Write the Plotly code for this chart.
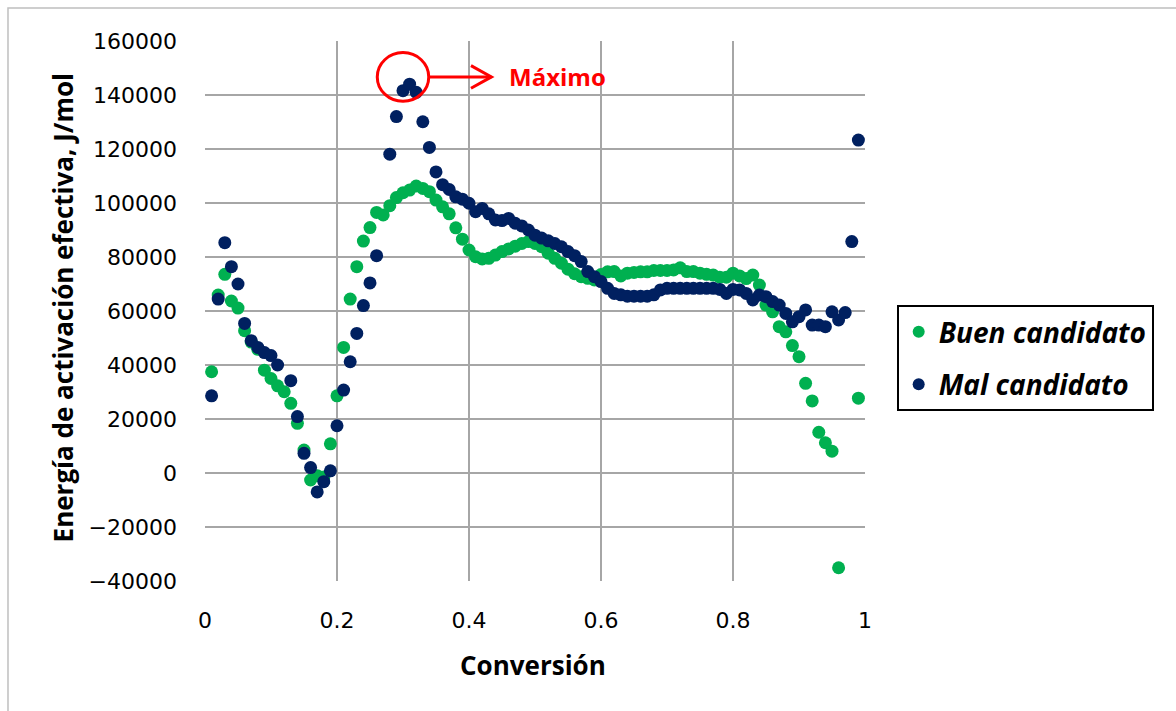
import plotly.graph_objects as go

# Conversion grid 0.01 ... 0.99
conversion = [round(0.01 * i, 2) for i in range(1, 100)]

# Effective activation energy (J/mol), good candidate
buen_candidato = [
    37500, 65900, 73600, 63700, 61100, 52700, 48500, 45800, 38100, 35000,
    32300, 30100, 25800, 18400, 8500, -2600, -1000, -1500, 10800, 28600,
    46500, 64400, 76400, 85900, 90900, 96500, 95600, 99000, 102000, 103800,
    104800, 106300, 105400, 104200, 101100, 98600, 96000, 90800, 86600, 82600,
    80100, 79300, 79500, 80700, 82000, 83000, 84000, 85000, 85700, 85000,
    83800, 81400, 79500, 77700, 75500, 73800, 72700, 72100, 71500, 73500,
    74500, 74600, 73000, 74000, 74300, 74500, 74500, 75000, 75000, 75000,
    75200, 76000, 74600, 74600, 74000, 73600, 73300, 72500, 72500, 74000,
    73000, 72000, 73300, 69600, 62200, 59700, 54200, 52300, 47200, 43100,
    33200, 26700, 15100, 11200, 8100, -35100, None, None, 27700,
]

# Effective activation energy (J/mol), bad candidate
mal_candidato = [
    28600, 64400, 85300, 76400, 70000, 55400, 49000, 46500, 44600, 43500,
    40000, None, 34200, 20900, 7300, 2000, -7000, -3200, 800, 17500,
    30700, 41200, 51700, 62000, 70400, 80500, None, 118100, 132000, 141600,
    144000, 141000, 130100, 120600, 111500, 106800, 105000, 102300, 101400, 99900,
    96800, 98000, 96000, 93700, 93500, 94300, 92500, 91500, 90000, 88100,
    87000, 86000, 85000, 83800, 82000, 80500, 78300, 74600, 72700, 70900,
    68400, 66500, 66000, 65500, 65500, 65500, 65500, 66000, 67800, 68400,
    68400, 68400, 68400, 68400, 68400, 68400, 68400, 68000, 66500, 68000,
    67800, 66500, 64100, 65900, 65300, 63500, 62200, 59100, 56000, 57900,
    60400, 54800, 54800, 54200, 59700, 56700, 59400, 85700, 123300,
]

# Peak marker of the bad candidate
max_x = 0.30
max_y = 146700

x_ticks = [0, 0.2, 0.4, 0.6, 0.8, 1]
x_tick_text = ["0", "0.2", "0.4", "0.6", "0.8", "1"]
y_ticks = list(range(-40000, 160001, 20000))

GREEN = "#00b050"
NAVY = "#002060"
GRID = "#a6a6a6"
RED = "#ff0000"

fig = go.Figure()
fig.add_trace(go.Scatter(
    x=conversion, y=buen_candidato, mode="markers",
    name="<b><i>Buen candidato</i></b>",
    marker=dict(color=GREEN, size=13, line=dict(width=0)),
    legendgroup="a",
))
fig.add_trace(go.Scatter(
    x=conversion, y=mal_candidato, mode="markers",
    name="<b><i>Mal candidato</i></b>",
    marker=dict(color=NAVY, size=13, line=dict(width=0)),
    legendgroup="b",
))

# Circle around the maximum with an arrow pointing at the label
rx, ry = 0.039, 9000
fig.add_shape(type="circle", xref="x", yref="y",
              x0=max_x - rx, x1=max_x + rx, y0=max_y - ry, y1=max_y + ry,
              line=dict(color=RED, width=3))
tip_x = 0.434
fig.add_shape(type="line", xref="x", yref="y",
              x0=max_x + rx, x1=tip_x, y0=max_y, y1=max_y,
              line=dict(color=RED, width=3))
fig.add_shape(type="path", xref="x", yref="y",
              path=f"M {tip_x - 0.031},{max_y + 4200} L {tip_x},{max_y} L {tip_x - 0.031},{max_y - 4200}",
              line=dict(color=RED, width=3))
fig.add_annotation(x=0.534, y=max_y, xref="x", yref="y", text="<b>Máximo</b>",
                   xanchor="center", yanchor="middle",
                   showarrow=False, font=dict(family="Open Sans", size=24, color=RED))

# Axis titles
fig.add_annotation(x=0.497, y=-0.156, xref="paper", yref="paper",
                   xanchor="center", yanchor="middle",
                   text="<b>Conversión</b>", showarrow=False,
                   font=dict(family="Open Sans", size=26, color="black"))
fig.add_annotation(x=-0.215, y=0.505, xref="paper", yref="paper",
                   xanchor="center", yanchor="middle",
                   text="<b>Energía de activación efectiva, J/mol</b>", textangle=-90,
                   showarrow=False,
                   font=dict(family="Open Sans", size=26, color="black"))

# Outer chart frame
fig.add_shape(type="rect", xref="paper", yref="paper",
              x0=-0.2985, x1=2.0, y0=-1.0, y1=1.0611,
              line=dict(color="#bfbfbf", width=1.5), layer="below")

fig.update_xaxes(
    range=[0, 1], tickvals=x_ticks, ticktext=x_tick_text,
    showgrid=True, gridcolor=GRID, gridwidth=1.5, zeroline=False,
    showline=False, ticks="", ticklabelstandoff=24,
    tickfont=dict(family="DejaVu Sans", size=22, color="black"),
)
fig.update_yaxes(
    range=[-40000, 160000], tickvals=y_ticks, tickformat="d",
    showgrid=True, gridcolor=GRID, gridwidth=1.5, zeroline=False,
    showline=False, ticks="", ticklabelstandoff=27,
    tickfont=dict(family="DejaVu Sans", size=22, color="black"),
)

fig.update_layout(
    width=1176, height=711,
    margin=dict(l=205, r=311, t=41, b=130, autoexpand=False),
    paper_bgcolor="white", plot_bgcolor="white",
    showlegend=True,
    legend=dict(
        x=1.048, y=0.511, xanchor="left", yanchor="top",
        bordercolor="black", borderwidth=2, bgcolor="white",
        font=dict(family="Open Sans", size=28, color="black"),
        traceorder="grouped", tracegroupgap=13,
        itemsizing="constant",
    ),
)

fig.write_html("out.html")
